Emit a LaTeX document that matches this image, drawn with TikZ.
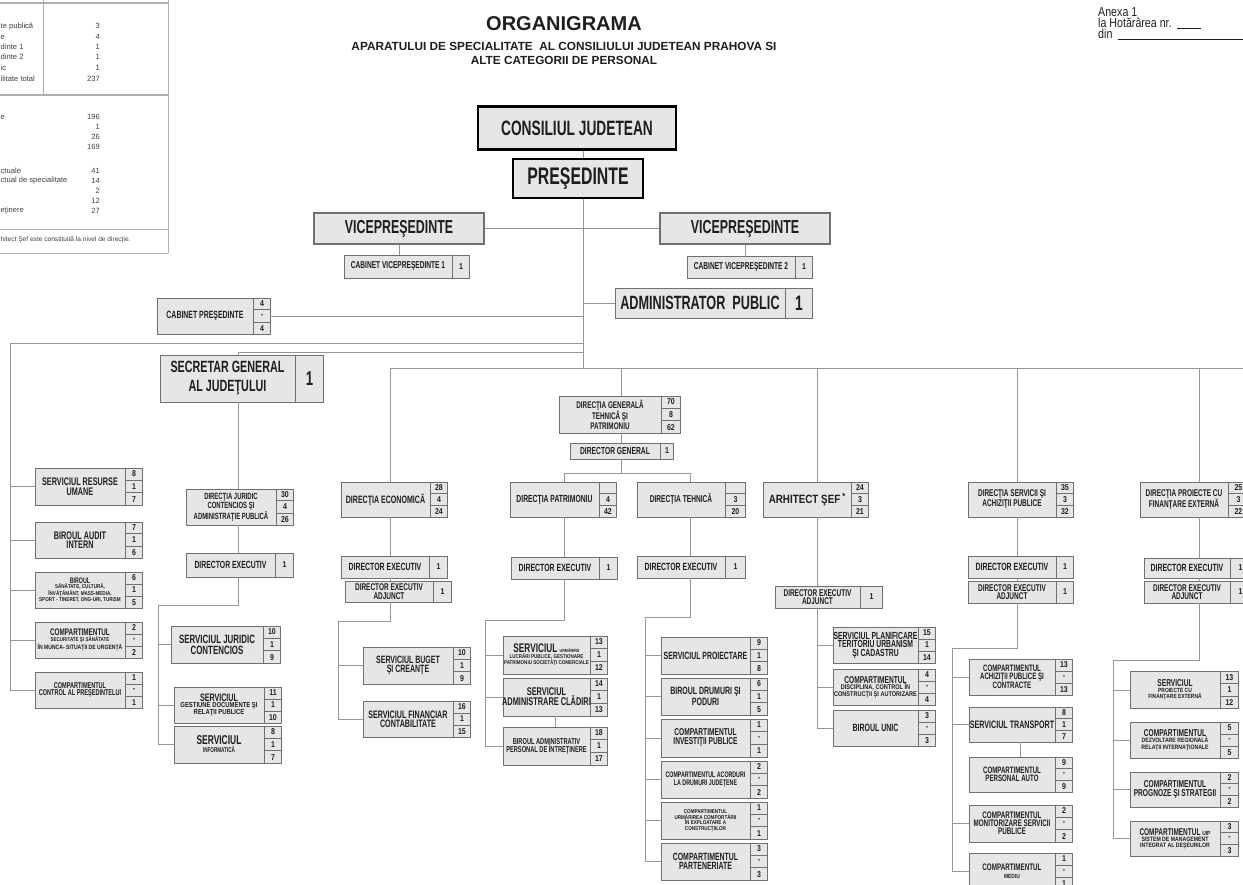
\documentclass[tikz,border=0pt]{standalone}
\usepackage{fontspec}
\setmainfont{Liberation Sans}
\newfontfamily\nar[FakeStretch=0.66]{Liberation Sans}
\newfontfamily\semi[FakeStretch=0.82]{Liberation Sans}
\usetikzlibrary{calc,positioning}
\definecolor{boxfill}{RGB}{230,230,230}
\definecolor{boxline}{RGB}{112,112,112}
\definecolor{linkgray}{RGB}{150,150,150}
\definecolor{inkdark}{RGB}{30,30,30}
\definecolor{tablegray}{RGB}{175,175,175}
\newcommand{\fa}[2]{\nar\bfseries\fontsize{#1}{#2}\selectfont}
\newcommand{\fb}[2]{\semi\bfseries\fontsize{#1}{#2}\selectfont}
\tikzset{
  unitbox/.style={draw=boxline, fill=boxfill, line width=0.9pt, inner sep=0pt, text=inkdark},
  headbox/.style={draw=black, fill=boxfill, line width=2.2pt, inner sep=0pt, text=inkdark},
  cellrule/.style={draw=boxline, line width=0.7pt},
  linkline/.style={draw=linkgray, line width=0.9pt},
  unitlabel/.style={text=inkdark, align=flush center, inner sep=0pt, text width=260pt},
  unitnum/.style={text=inkdark, inner sep=0pt, font=\fb{8.5}{8.5}},
  tableline/.style={draw=tablegray, line width=0.8pt},
  legendtext/.style={font=\fontsize{7.6}{7.6}\selectfont, text=inkdark!85, inner sep=0pt},
  annextext/.style={font=\semi\fontsize{13}{13}\selectfont, text=inkdark, inner sep=0pt},
}
\def\unitsplit#1/#2/#3\relax{\def\unA{#1}\def\unB{#2}\def\unC{#3}}
% box with three number cells: [cell width]{name}{centre}{width}{height}{font}{label}{n1/n2/n3}
\newcommand{\unitthree}[8][17]{%
  \unitsplit#8\relax
  \node[unitbox, minimum width=#4, minimum height=#5] (#2) at #3 {};
  \draw[cellrule] ($(#2.north east)+(-#1,0)$) -- ($(#2.south east)+(-#1,0)$);
  \draw[cellrule] ($(#2.north east)!0.3333!(#2.south east)+(-#1,0)$) -- ($(#2.north east)!0.3333!(#2.south east)$);
  \draw[cellrule] ($(#2.north east)!0.6667!(#2.south east)+(-#1,0)$) -- ($(#2.north east)!0.6667!(#2.south east)$);
  \node[unitnum] (#2-a) at ($(#2.north east)!0.1667!(#2.south east)+(-#1/2,0)$) {\unA};
  \node[unitnum] (#2-b) at ($(#2.north east)!0.5!(#2.south east)+(-#1/2,0)$) {\unB};
  \node[unitnum] (#2-c) at ($(#2.north east)!0.8333!(#2.south east)+(-#1/2,0)$) {\unC};
  \node[unitlabel, font=#6] (#2-t) at ($(#2.center)+(-#1/2,0)$) {#7};
}
% box with one number cell: [cell width]{name}{centre}{width}{height}{font}{label}{number}
\newcommand{\unitone}[8][17]{%
  \node[unitbox, minimum width=#4, minimum height=#5] (#2) at #3 {};
  \draw[cellrule] ($(#2.north east)+(-#1,0)$) -- ($(#2.south east)+(-#1,0)$);
  \node[unitnum] (#2-a) at ($(#2.east)+(-#1/2,0)$) {#8};
  \node[unitlabel, font=#6] (#2-t) at ($(#2.center)+(-#1/2,0)$) {#7};
}
\begin{document}
\begin{tikzpicture}[x=1pt, y=-1pt]
\fill[white] (0,0) rectangle (1243,885);
\useasboundingbox (0,0) rectangle (1243,885);
\clip (0,0) rectangle (1243,885);
% legend table, cut at the left border
\draw[tableline, line width=1.6pt] (0,3) -- (168,3);
\draw[tableline] (43,0) -- (43,94);
\draw[tableline] (168,0) -- (168,253);
\draw[tableline, line width=1.8pt] (0,95) -- (168,95);
\draw[tableline] (0,229) -- (168,229);
\draw[tableline] (0,253) -- (168,253);
\foreach \y/\lab [count=\i] in {26/te publică, 37/e, 47/dinte 1, 57/dinte 2, 68/ic, 79/ilitate total, 117/e, 171/ctuale, 181/ctual de specialitate, 211/eţinere}
  \node[legendtext, anchor=west] (lt\i) at (0.5,\y) {\lab};
\foreach \y/\n [count=\i] in {26/3, 37/4, 47/1, 57/1, 68/1, 79/237, 117/196, 127/1, 137/26, 147/169, 171/41, 181/14, 191/2, 201/12, 211/27}
  \node[legendtext, anchor=east] (ln\i) at (100,\y) {\n};
\node[legendtext, anchor=west, font=\fontsize{6.6}{6.6}\selectfont] (lnote) at (0.5,240) {hitect Şef este constituită la nivel de direcţie.};
% annex
\node[annextext, anchor=base west] (anx1) at (1098,17) {Anexa 1};
\node[annextext, anchor=base west] (anx2) at (1098,28) {la Hotărârea nr.};
\node[annextext, anchor=base west] (anx3) at (1098,39) {din};
\draw[inkdark, line width=0.8pt] ($(anx2.base east)+(5,0)$) -- ++(24,0);
\draw[inkdark, line width=0.8pt] ($(anx3.base east)+(5,0)$) -- ++(140,0);
% title
\node[font=\bfseries\fontsize{20}{20}\selectfont, text=inkdark] (ttl) at (564,24) {ORGANIGRAMA};
\node[font=\bfseries\fontsize{11.8}{13.8}\selectfont, text=inkdark, align=center, inner sep=0pt] (sub) at (564,53.5) {APARATULUI DE SPECIALITATE\ \ AL CONSILIULUI JUDETEAN PRAHOVA SI\\ALTE CATEGORII DE PERSONAL};
% leadership
\node[headbox, minimum width=198, minimum height=43, font=\fa{20.8}{20}] (cj) at (577,128) {CONSILIUL JUDETEAN};
\node[headbox, minimum width=130, minimum height=39, font=\fa{24}{24}] (pres) at (578,178.5) {PREŞEDINTE};
\node[unitbox, line width=1.2pt, minimum width=170, minimum height=31, font=\fa{18.8}{18}] (vl) at (399,228.5) {VICEPREŞEDINTE};
\node[unitbox, line width=1.2pt, minimum width=170, minimum height=31, font=\fa{18.8}{18}] (vr) at (745,228.5) {VICEPREŞEDINTE};
\unitone{cv1}{(406.5,266.5)}{125}{23}{\fa{10}{10}}{CABINET VICEPREŞEDINTE 1}{1}
\unitone{cv2}{(749.5,267)}{125}{22}{\fa{10}{10}}{CABINET VICEPREŞEDINTE 2}{1}
\unitone[27]{adm}{(713.5,303)}{197}{30}{\fa{19.2}{19}}{ADMINISTRATOR\ \ PUBLIC}{\fa{21}{21}1}
\unitthree{cp}{(213.5,316)}{113}{36}{\fa{10.5}{10}}{CABINET PREŞEDINTE}{4/-/4}
% staff column
\unitthree{sru}{(88.5,486.5)}{107}{37}{\fa{11}{9.5}}{SERVICIUL RESURSE\\UMANE}{8/1/7}
\unitthree{bai}{(88.5,540)}{107}{36}{\fa{11}{9.5}}{BIROUL AUDIT\\INTERN}{7/1/6}
\unitthree{bsc}{(88.5,590)}{107}{36}{\fa{8}{5.2}}{BIROUL\\\fb{5.6}{5.2}SĂNĂTATE, CULTURĂ,\\ÎNVĂŢĂMÂNT, MASS-MEDIA,\\SPORT - TINERET, ONG-URI, TURISM}{6/1/5}
\unitthree{css}{(88.5,640)}{107}{36}{\fa{9.6}{6}}{COMPARTIMENTUL\\\fb{5.5}{6}SECURITATE ŞI SĂNĂTATE\\\fb{6.2}{6}ÎN MUNCA- SITUAŢII DE URGENŢĂ}{2/-/2}
\unitthree{ccp}{(88.5,690)}{107}{36}{\fa{8.4}{7.5}}{COMPARTIMENTUL\\CONTROL AL PREŞEDINTELUI}{1/-/1}
% secretary general
\unitone[28]{sg}{(241.5,378.5)}{163}{47}{\fa{16.3}{19}}{SECRETAR GENERAL\\AL JUDEŢULUI}{\fa{20}{20}1}
\unitthree{dj}{(239.5,507)}{107}{36}{\fa{9}{7}}{DIRECŢIA JURIDIC\\CONTENCIOS ŞI\\ADMINISTRAŢIE PUBLICĂ}{30/4/26}
\unitone[18]{dje}{(239.5,565)}{107}{24}{\fa{10.4}{9}}{DIRECTOR EXECUTIV}{1}
\unitthree{sjc}{(225.5,644.5)}{109}{37}{\fa{12}{11}}{SERVICIUL JURIDIC\\CONTENCIOS}{10/1/9}
\unitthree{sgd}{(227.5,705)}{107}{36}{\fa{10.8}{6}}{SERVICIUL\\\fb{7.2}{6}GESTIUNE DOCUMENTE ŞI\\RELAŢII PUBLICE}{11/1/10}
\unitthree{sinf}{(227.5,744.5)}{107}{37}{\fa{12.8}{8}}{SERVICIUL\\\fa{7}{8}INFORMATICĂ}{8/1/7}
% economic directorate
\unitthree{de}{(394,499.5)}{106}{35}{\fa{10.7}{10}}{DIRECŢIA ECONOMICĂ}{28/4/24}
\unitone[18]{dee}{(394,567)}{106}{22}{\fa{10.5}{9}}{DIRECTOR EXECUTIV}{1}
\unitone[18]{deea}{(398,591.5)}{106}{21}{\fa{9.8}{8.6}}{DIRECTOR EXECUTIV\\ADJUNCT}{1}
\unitthree{sbc}{(416.5,665.5)}{107}{37}{\fa{10.6}{9}}{SERVICIUL BUGET\\ŞI CREANŢE}{10/1/9}
\unitthree{sfc}{(416.5,719)}{107}{36}{\fa{10.8}{9}}{SERVICIUL FINANCIAR\\CONTABILITATE}{16/1/15}
% general technical and patrimony directorate
\unitthree[19]{dgtp}{(619.5,414.5)}{121}{37}{\fa{9.6}{7.8}}{DIRECŢIA GENERALĂ\\TEHNICĂ ŞI\\PATRIMONIU}{70/8/62}
\unitone[13]{dg}{(621.5,451)}{103}{16}{\fa{10.2}{9}}{DIRECTOR GENERAL}{1}
\unitthree{dp}{(563,499.5)}{106}{35}{\fa{10.3}{10}}{DIRECŢIA PATRIMONIU}{/4/42}
\unitone[18]{dpe}{(564,568)}{106}{22}{\fa{10.5}{9}}{DIRECTOR EXECUTIV}{1}
\unitthree{sup}{(555,655)}{104}{38}{\fa{12.5}{6}}{SERVICIUL {\fb{4.5}{4.5}URMĂRIRE}\\\fb{5.5}{6}LUCRĂRI PUBLICE, GESTIONARE\\PATRIMONIU SOCIETĂŢI COMERCIALE}{13/1/12}
\unitthree{sac}{(555,697)}{104}{38}{\fa{11.2}{10}}{SERVICIUL\\ADMINISTRARE CLĂDIRI}{14/1/13}
\unitthree{bap}{(555,746)}{104}{38}{\fa{8.6}{8}}{BIROUL ADMINISTRATIV\\PERSONAL DE ÎNTREŢINERE}{18/1/17}
\unitthree[20]{dt}{(691,499.5)}{108}{35}{\fa{10}{10}}{DIRECŢIA TEHNICĂ}{/3/20}
\unitone[20]{dte}{(691,567)}{108}{22}{\fa{10.5}{9}}{DIRECTOR EXECUTIV}{1}
\unitthree{sp}{(714,655.5)}{106}{37}{\fa{10.5}{9}}{SERVICIUL PROIECTARE}{9/1/8}
\unitthree{bdp}{(714,696.5)}{106}{37}{\fa{10.6}{9.5}}{BIROUL DRUMURI ŞI\\PODURI}{6/1/5}
\unitthree{cip}{(714,738)}{106}{38}{\fa{10}{9}}{COMPARTIMENTUL\\INVESTIŢII PUBLICE}{1/-/1}
\unitthree{cad}{(714,779.5)}{106}{37}{\fa{8}{7.5}}{COMPARTIMENTUL ACORDURI\\LA DRUMURI JUDEŢENE}{2/-/2}
\unitthree{cuc}{(714,820.5)}{106}{37}{\fb{5.6}{5.6}}{COMPARTIMENTUL\\URMĂRIREA COMPORTĂRII\\ÎN EXPLOATARE A\\CONSTRUCŢIILOR}{1/-/1}
\unitthree{cpa}{(714,861.5)}{106}{37}{\fa{10.5}{9.5}}{COMPARTIMENTUL\\PARTENERIATE}{3/-/3}
% chief architect
\unitthree{as}{(815.5,499.5)}{105}{35}{\fb{12}{12}}{ARHITECT ŞEF\,\raisebox{3.5pt}{\fb{9}{9}*}}{24/3/21}
\unitone[22]{asa}{(828.5,597)}{107}{22}{\fa{9.8}{8.6}}{DIRECTOR EXECUTIV\\ADJUNCT}{1}
\unitthree{spt}{(884,645)}{102}{36}{\fa{10.3}{8.5}}{SERVICIUL PLANIFICARE\\TERITORIU URBANISM\\ŞI CADASTRU}{15/1/14}
\unitthree{cdc}{(884,687)}{102}{36}{\fa{10}{6.5}}{COMPARTIMENTUL\\\fb{6.8}{6.5}DISCIPLINA, CONTROL ÎN\\CONSTRUCŢII ŞI AUTORIZARE}{4/-/4}
\unitthree{bu}{(884,728)}{102}{36}{\fa{10.6}{10}}{BIROUL UNIC}{3/-/3}
% services and procurement directorate
\unitthree{dsa}{(1020.5,499.5)}{105}{35}{\fa{9.8}{8.5}}{DIRECŢIA SERVICII ŞI\\ACHIZIŢII PUBLICE}{35/3/32}
\unitone{dse}{(1020.5,567)}{105}{22}{\fa{10.5}{9}}{DIRECTOR EXECUTIV}{1}
\unitone{dsea}{(1020.5,592)}{105}{22}{\fa{9.8}{8.6}}{DIRECTOR EXECUTIV\\ADJUNCT}{1}
\unitthree{cap}{(1020.5,677)}{103}{36}{\fa{9.3}{8}}{COMPARTIMENTUL\\ACHIZIŢII PUBLICE ŞI\\CONTRACTE}{13/-/13}
\unitthree{st}{(1020.5,724.5)}{103}{35}{\fa{10.8}{10}}{SERVICIUL TRANSPORT}{8/1/7}
\unitthree{cpau}{(1020.5,774.5)}{103}{35}{\fa{9.3}{8}}{COMPARTIMENTUL\\PERSONAL AUTO}{9/-/9}
\unitthree{cms}{(1020.5,823.5)}{103}{37}{\fa{9.5}{8}}{COMPARTIMENTUL\\MONITORIZARE SERVICII\\PUBLICE}{2/-/2}
\unitthree{cmed}{(1020.5,871)}{103}{36}{\fa{9.5}{7.5}}{COMPARTIMENTUL\\\fb{6}{7.5}MEDIU}{1/-/1}
% external funding directorate
\unitthree[20]{dpf}{(1194,499.5)}{108}{35}{\fa{9.8}{8.5}}{DIRECŢIA PROIECTE CU\\FINANŢARE EXTERNĂ}{25/3/22}
\unitone[20]{dpfe}{(1197,568)}{106}{20}{\fa{10.5}{9}}{DIRECTOR EXECUTIV}{1}
\unitone[20]{dpfea}{(1197,592)}{106}{22}{\fa{9.8}{8.6}}{DIRECTOR EXECUTIV\\ADJUNCT}{1}
\unitthree[18]{spf}{(1184,690)}{108}{37}{\fa{10}{6}}{SERVICIUL\\\fb{6}{6}PROIECTE CU\\FINANŢARE EXTERNĂ}{13/1/12}
\unitthree[18]{cdr}{(1184,740)}{108}{36}{\fa{10}{6.2}}{COMPARTIMENTUL\\\fb{6.3}{6.2}DEZVOLTARE REGIONALĂ\\RELAŢII INTERNAŢIONALE}{5/-/5}
\unitthree[18]{cps}{(1184,789.5)}{108}{35}{\fa{10}{8.5}}{COMPARTIMENTUL\\PROGNOZE ŞI STRATEGII}{2/-/2}
\unitthree[18]{cuip}{(1184,838.5)}{108}{35}{\fa{9.8}{6.2}}{COMPARTIMENTUL {\fb{6}{6}UIP}\\\fb{6.3}{6.2}SISTEM DE MANAGEMENT\\INTEGRAT AL DEŞEURILOR}{3/-/3}
% connectors, top part
\coordinate (tr) at (583,368);
\draw[linkline] (cj.south -| tr) -- (pres.north -| tr);
\draw[linkline] (pres.south -| tr) -- (tr);
\draw[linkline] (vl.east) -- (vr.west);
\draw[linkline] (vl.south) -- (vl.south |- cv1.north);
\draw[linkline] (vr.south) -- (vr.south |- cv2.north);
\draw[linkline] (adm.west) -- (adm.west -| tr);
\draw[linkline] (cp.east) -- (cp.east -| tr);
% staff bus
\coordinate (lb) at (10,343);
\draw[linkline] (lb -| tr) -- (lb) |- (ccp.west);
\foreach \u in {sru,bai,bsc,css} \draw[linkline] (lb |- \u.west) -- (\u.west);
% secretary general branch
\coordinate (sb) at (238,352);
\draw[linkline] (sb -| tr) -- (sb) -- (sb |- sg.north);
\draw[linkline] (sb |- sg.south) -- (sb |- dj.north);
\draw[linkline] (sb |- dj.south) -- (sb |- dje.north);
\coordinate (jb) at (158,605);
\draw[linkline] (sb |- dje.south) |- (jb) |- (sinf.west);
\foreach \u in {sjc,sgd} \draw[linkline] (jb |- \u.west) -- (\u.west);
% main bus
\coordinate (ce) at (390,368);
\coordinate (re) at (1243,368);
\draw[linkline] (ce) -- (re);
\draw[linkline] (ce) -- (ce |- de.north);
\draw[linkline] (ce |- de.south) -- (ce |- dee.north);
\draw[linkline] (ce |- dee.south) -- (ce |- deea.north);
\coordinate (eb) at (338,621);
\draw[linkline] (ce |- deea.south) |- (eb) |- (sfc.west);
\draw[linkline] (eb |- sbc.west) -- (sbc.west);
% general directorate branch
\coordinate (cg) at (621,368);
\draw[linkline] (cg) -- (cg |- dgtp.north);
\draw[linkline] (cg |- dgtp.south) -- (cg |- dg.north);
\coordinate (gb) at (564,473);
\coordinate (gt) at (690,473);
\draw[linkline] (cg |- dg.south) -- (cg |- gb);
\draw[linkline] (gb |- dp.north) -- (gb) -- (gt) -- (gt |- dt.north);
\draw[linkline] (gb |- dp.south) -- (gb |- dpe.north);
\coordinate (pb) at (485,620);
\draw[linkline] (gb |- dpe.south) |- (pb) |- (bap.west);
\foreach \u in {sup,sac} \draw[linkline] (pb |- \u.west) -- (\u.west);
\draw[linkline] (sac.south) -- (bap.north);
\draw[linkline] (gt |- dt.south) -- (gt |- dte.north);
\coordinate (tb) at (645,617);
\draw[linkline] (gt |- dte.south) |- (tb) |- (cpa.west);
\foreach \u in {sp,bdp,cip,cad,cuc} \draw[linkline] (tb |- \u.west) -- (\u.west);
% chief architect branch
\coordinate (ca) at (817,368);
\draw[linkline] (ca) -- (ca |- as.north);
\draw[linkline] (ca |- as.south) -- (ca |- asa.north);
\draw[linkline] (ca |- asa.south) |- (bu.west);
\foreach \u in {spt,cdc} \draw[linkline] (ca |- \u.west) -- (\u.west);
% services branch
\coordinate (cs) at (1017,368);
\draw[linkline] (cs) -- (cs |- dsa.north);
\draw[linkline] (cs |- dsa.south) -- (cs |- dse.north);
\draw[linkline] (cs |- dse.south) -- (cs |- dsea.north);
\coordinate (sk) at (952,648);
\draw[linkline] (cs |- dsea.south) |- (sk) |- (cmed.west);
\foreach \u in {cap,st,cms} \draw[linkline] (sk |- \u.west) -- (\u.west);
\draw[linkline] (st.south) -- (cpau.north);
% external funding branch
\coordinate (cx) at (1199,368);
\draw[linkline] (cx) -- (cx |- dpf.north);
\draw[linkline] (cx |- dpf.south) -- (cx |- dpfe.north);
\draw[linkline] (cx |- dpfe.south) -- (cx |- dpfea.north);
\coordinate (xb) at (1113,660);
\draw[linkline] (cx |- dpfea.south) |- (xb) |- (cuip.west);
\foreach \u in {spf,cdr,cps} \draw[linkline] (xb |- \u.west) -- (\u.west);
\end{tikzpicture}
\end{document}
